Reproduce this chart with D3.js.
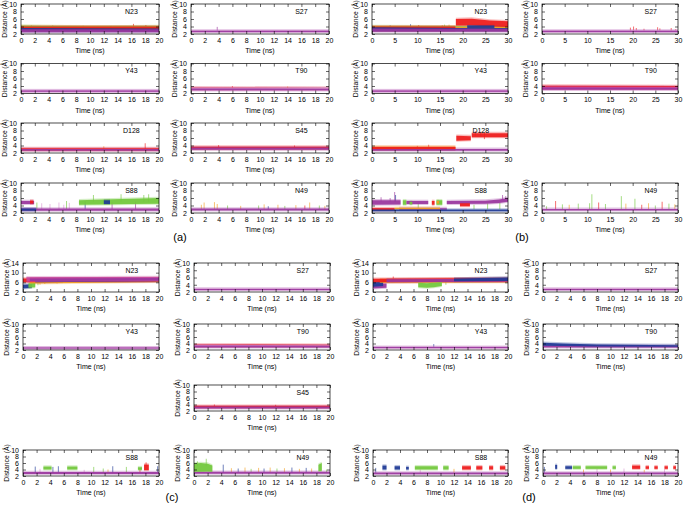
<!DOCTYPE html>
<html><head><meta charset="utf-8">
<script src="https://cdn.jsdelivr.net/npm/d3@7"></script>
<style>
body{margin:0;background:#fff}
text{font-family:"Liberation Sans",Arial,Helvetica,sans-serif}
</style>
</head><body><script>
// ---------------- DATA ----------------
// band = [series, [[time, low, high], ...]] ; spike = [series, time, from, to]
const seriesColors = {r:"#ee1c1c", g:"#72c83c", b:"#1f3a96", m:"#9a379e", o:"#f2a024", p:"#d99ad3", k:"#c8489e"};

const xTicks20 = [0,2,4,6,8,10,12,14,16,18,20];
const xTicks30 = [0,5,10,15,20,25,30];
const yTicks10 = [2,4,6,8,10];
const yTicks14 = [2,6,10,14];

// ---- panel (a), 0-20 ns ----
const aN23Bands = [["o",[[0,3.0,4.1],[20,3.0,4.0]]],["g",[[0,3.0,4.2],[10,3.0,4.0],[20,3.0,4.1]]],["r",[[0,2.9,4.0],[20,2.9,4.0]]],["b",[[0,2.7,3.6],[20,2.7,3.5]]],["m",[[0,2.5,3.3],[20,2.5,3.3]]]];
const aN23Spikes = [["r",16.3,3.5,4.7],["r",18.1,3.5,4.4],["g",4.6,3.5,4.3],["b",13,3.5,4.1],["o",1.5,3.5,4.3],["g",9,3.5,4.2]];
const aS27Bands = [["p",[[0,2.45,2.95],[20,2.45,2.95]]],["m",[[0,2.55,2.85],[20,2.55,2.85]]]];
const aS27Spikes = [["m",3.8,2.8,3.9]];
const aY43Bands = [["p",[[0,2.4,2.9],[20,2.4,2.9]]],["m",[[0,2.5,2.8],[20,2.5,2.8]]]];
const aY43Spikes = [];
const aT90Bands = [["r",[[0,3.0,3.6],[20,3.0,3.5]]],["p",[[0,2.8,3.6],[20,2.8,3.5]]],["m",[[0,2.9,3.35],[20,2.9,3.3]]]];
const aT90Spikes = [["r",6,3.3,4.0],["o",14,3.3,3.9]];
const aD128Bands = [["r",[[0,2.7,3.3],[20,2.7,3.3]]],["m",[[0,2.6,3.1],[20,2.6,3.1]]]];
const aD128Spikes = [["r",18,3.1,4.6],["o",12,3.1,3.8]];
const aS45Bands = [["r",[[0,3.0,3.7],[20,3.0,3.7]]],["m",[[0,2.9,3.5],[20,2.9,3.5]]]];
const aS45Spikes = [["r",4,3.4,4.1],["r",15,3.4,4.0]];
const aS88Bands = [["m",[[0,2.6,3.2],[20,2.6,3.2]]],["b",[[0,2.6,3.2],[2.2,2.6,3.2]]],["m",[[0,4.4,5.2],[1.9,4.4,5.2]]],["r",[[1.3,4.5,5.3],[1.8,4.5,5.3]]],["g",[[8.4,4.2,5.4],[12,4.3,5.6],[16,4.4,5.8],[20,4.5,6.0]]],["b",[[12,4.4,5.4],[12.9,4.4,5.4]]]];
const aS88Spikes = [["g",2.3,3,4.8],["g",6.6,3,5.2],["b",9.3,3,5.1],["m",13.2,3,4.9],["m",16.6,3,5.0],["g",10.5,5,6.8],["g",14.5,5,7.0],["g",17.8,5,6.8],["g",18.5,5,7.0],["p",3.0,3,4.6],["p",4.2,3,4.4],["p",5.5,3,4.8],["p",6.2,3,4.2],["p",7.0,3,4.7]];
const aN49Bands = [["m",[[0,2.7,3.2],[20,2.7,3.2]]]];
const aN49Spikes = [["o",1.5,2.9,4.2],["o",1.9,2.9,4.8],["o",3.4,2.9,4.9],["o",3.8,2.9,4.4],["g",5.3,2.9,4.0],["o",7.2,2.9,3.9],["g",9.8,2.9,4.0],["o",10.6,2.9,4.3],["b",11.2,2.9,3.8],["o",12.6,2.9,4.2],["g",13.6,2.9,3.9],["o",15.2,2.9,4.1],["r",16.5,2.9,4.0],["o",17.2,2.9,4.8],["g",18.6,2.9,4.0],["o",19.4,2.9,3.9]];

// ---- panel (b), 0-30 ns ----
const bN23Bands = [["g",[[0,3.0,4.1],[30,3.0,4.0]]],["o",[[0,3.0,4.0],[30,3.0,3.9]]],["r",[[0,2.9,4.0],[18.4,2.9,4.0]]],["r",[[18.5,4.3,6.0],[22,4.3,6.1],[26,4.0,5.6],[30,3.9,5.4]]],["b",[[0,2.8,3.8],[20,2.8,3.6],[30,2.8,3.6]]],["b",[[21,3.6,4.3],[27,3.6,4.3]]],["m",[[0,2.6,3.5],[30,2.6,3.4]]]];
const bN23Spikes = [["b",8.5,3.5,4.6],["r",10.3,3.5,4.4],["g",16,3.5,4.5],["o",17,3.5,4.5],["r",15.5,3.5,4.3],["b",4,3.5,4.3]];
const bS27Bands = [["p",[[0,2.45,2.95],[30,2.45,2.95]]],["m",[[0,2.55,2.85],[30,2.55,2.85]]]];
const bS27Spikes = [["r",19.5,2.9,3.7],["r",20.2,2.9,4.0],["r",20.8,2.9,3.6],["r",25.5,2.9,3.8],["r",26,2.9,3.5],["r",28.5,2.9,3.6],["r",22.5,2.9,3.4],["r",29.5,2.9,3.3]];
const bY43Bands = [["p",[[0,2.4,2.9],[30,2.4,2.9]]],["m",[[0,2.5,2.8],[30,2.5,2.8]]]];
const bY43Spikes = [];
const bT90Bands = [["r",[[0,3.2,4.1],[30,3.2,4.0]]],["k",[[0,3.0,3.9],[30,3.0,3.8]]],["m",[[0,3.1,3.6],[30,3.1,3.5]]]];
const bT90Spikes = [];
const bD128Bands = [["o",[[0,2.9,3.7],[18.4,2.9,3.7]]],["r",[[0,2.8,3.6],[18.4,2.8,3.6]]],["r",[[18.6,5.3,6.6],[21.8,5.4,6.5]]],["r",[[22,6.2,7.3],[30,6.2,7.3]]],["m",[[0,2.6,3.1],[30,2.6,3.1]]]];
const bD128Spikes = [["r",22.8,6.5,7.8],["r",24,6.5,7.6],["r",24.8,5.7,7.5],["r",12.5,3.2,4.2],["r",10,3.2,3.9]];
const bS88Bands = [["m",[[6,2.9,3.3],[16.5,2.9,3.3]]],["r",[[0,2.7,3.3],[5,2.7,3.3]]],["o",[[5,3.0,3.4],[15,3.0,3.4]]],["b",[[0,2.5,2.95],[30,2.5,2.95]]],["m",[[0,4.2,5.4],[6.3,4.3,5.4]]],["g",[[6.8,4.2,5.4],[7.6,4.2,5.4]]],["m",[[7.6,4.4,5.2],[12.4,4.4,5.2]]],["g",[[8.3,4.3,5.0],[8.9,4.3,5.0]]],["r",[[13.2,4.2,5.2],[13.8,4.2,5.2]]],["g",[[14.2,4.2,5.4],[15.5,4.2,5.4]]],["o",[[14.3,4.5,5.2],[14.8,4.5,5.2]]],["m",[[16.5,4.4,5.2],[25,4.5,5.3],[28,4.7,5.6],[30,5.0,6.0]]],["r",[[19.4,3.8,4.6],[21.6,3.8,4.6]]]];
const bS88Spikes = [["m",5,5,7.6],["b",5.2,5,6.8],["m",2,5,6.2],["g",25.5,3,4.6],["g",28.2,3,4.8],["m",28.8,5.5,6.8],["m",29.5,5.5,6.5],["g",22.5,3,4.2],["g",10.2,3,4.6],["m",4,5,6.0]];
const bN49Bands = [["m",[[0,2.7,3.1],[30,2.7,3.1]]]];
const bN49Spikes = [["g",1,2.9,3.8],["r",3,2.9,5.2],["g",4.5,2.9,4.3],["o",6,2.9,4.2],["g",8,2.9,4.5],["g",10.5,2.9,4.6],["g",11,2.9,7.0],["r",12.5,2.9,4.8],["g",14,2.9,4.4],["g",17.5,2.9,6.5],["o",18.5,2.9,4.5],["g",20.5,2.9,5.8],["r",22,2.9,4.2],["o",23.5,2.9,4.6],["g",25,2.9,4.0],["r",26.5,2.9,5.0],["g",28,2.9,4.5],["o",29.3,2.9,4.3]];

// ---- panel (c), 0-20 ns ----
const cN23Bands = [["b",[[0,3.5,5.0],[1.3,3.8,5.2]]],["g",[[0.8,3.8,5.5],[1.8,4.0,5.8]]],["o",[[1,5.5,7.4],[20,6.1,7.4]]],["r",[[0,6.0,7.6],[20,6.3,7.8]]],["b",[[1.8,6.0,7.4],[20,6.4,7.6]]],["k",[[0.5,6.2,8.1],[20,6.4,8.2]]],["m",[[1,6.6,7.6],[20,6.8,7.8]]]];
const cN23Spikes = [["o",2.5,6,5.0],["o",3.2,6,5.3],["g",2.2,6,4.8],["o",5,6,5.5]];
const cS27Bands = [["p",[[0,2.45,2.95],[20,2.45,2.95]]],["m",[[0,2.55,2.85],[20,2.55,2.85]]]];
const cS27Spikes = [];
const cY43Bands = [["p",[[0,2.35,2.85],[20,2.35,2.85]]],["m",[[0,2.45,2.75],[20,2.45,2.75]]]];
const cY43Spikes = [];
const cT90Bands = [["r",[[0,2.9,3.7],[20,2.9,3.6]]],["p",[[0,3.0,3.6],[20,3.0,3.5]]],["m",[[0,2.8,3.4],[20,2.8,3.3]]]];
const cT90Spikes = [];
const cS45Bands = [["r",[[0,2.9,3.6],[20,2.9,3.6]]],["m",[[0,2.8,3.4],[20,2.8,3.4]]]];
const cS45Spikes = [["r",3,3.3,4.0],["r",12,3.3,3.9]];
const cS88Bands = [["m",[[0,2.6,3.2],[20,2.6,3.2]]],["g",[[3.0,4.0,4.9],[4.2,4.0,4.9]]],["g",[[6.5,4.0,4.9],[8.0,4.0,4.9]]],["g",[[16.9,3.9,4.7],[17.5,3.9,4.7]]],["r",[[17.8,3.8,5.5],[18.5,3.8,5.5]]]];
const cS88Spikes = [["b",1.8,3,4.9],["b",4.4,3,4.8],["b",5.2,3,5.0],["b",13.2,3,5.0],["b",19.8,3,5.0],["g",10.4,3,4.8],["g",11.8,3,4.3],["g",15.2,3,4.8],["r",18.1,5,6.2],["r",17.2,3,4.3],["p",2.5,3,4.2],["p",9,3,3.9],["o",12.5,3,4.0]];
const cN49Bands = [["m",[[0,2.7,3.3],[20,2.7,3.3]]],["g",[[0,3.3,5.8],[1,3.3,6.0],[2,3.4,5.8],[2.7,3.3,5.2]]],["g",[[18.3,3.5,5.5],[18.8,3.6,6.0]]]];
const cN49Spikes = [["g",1.8,5,7.3],["g",0.5,5,6.5],["b",4.3,3,5.5],["o",5.5,3,4.4],["b",6.5,3,4.3],["o",7.5,3,4.6],["g",8.4,3,4.2],["o",9.5,3,4.5],["b",10.3,3,4.3],["o",11.2,3,4.6],["g",12.2,3,4.3],["o",13.3,3,4.4],["b",14.4,3,4.6],["o",15.5,3,4.2],["b",16.5,3,4.5],["o",17.3,3,4.3],["g",19.5,3,4.0]];

// ---- panel (d), 0-20 ns ----
const dN23Bands = [["m",[[0,3.5,5.2],[2,3.8,5.5]]],["b",[[0,4.2,6.0],[1.5,4.5,6.2]]],["o",[[1,5.8,7.3],[20,6.0,7.5]]],["r",[[0,6.0,7.5],[20,6.2,7.8]]],["m",[[2,6.0,7.3],[20,6.2,7.5]]],["g",[[6.7,4.0,5.8],[8,3.8,5.6],[9,4.0,5.8],[10.2,4.5,6.0]]],["b",[[12,6.5,7.6],[20,6.6,8.0]]]];
const dN23Spikes = [["g",10.8,5,6.2],["r",3,7.5,8.4]];
const dS27Bands = [["p",[[0,2.45,2.95],[20,2.45,2.95]]],["m",[[0,2.55,2.85],[20,2.55,2.85]]]];
const dS27Spikes = [];
const dY43Bands = [["p",[[0,2.5,3.0],[20,2.5,3.0]]],["m",[[0,2.6,2.9],[20,2.6,2.9]]]];
const dY43Spikes = [["b",9,2.9,3.8]];
const dT90Bands = [["m",[[0,2.8,3.4],[20,2.8,3.3]]],["b",[[0,3.3,4.2],[3,3.2,4.0],[8,3.1,3.7],[20,3.0,3.5]]]];
const dT90Spikes = [];
const dS88Bands = [["m",[[0,2.55,3.05],[20,2.55,3.05]]],["b",[[1.4,4.0,5.2],[2.0,4.0,5.2]]],["b",[[3.2,4.0,5.0],[4.0,4.0,5.0]]],["b",[[4.9,4.0,4.8],[5.3,4.0,4.8]]],["g",[[6.2,4.0,5.0],[9.6,4.0,5.0]]],["g",[[10.4,4.0,5.0],[11.2,4.0,5.0]]],["r",[[13.2,4.0,5.0],[14.5,4.0,5.0]]],["r",[[15.3,4.0,5.0],[16.2,4.0,5.0]]],["r",[[17.2,4.0,5.0],[17.8,4.0,5.0]]],["r",[[18.8,4.0,5.0],[19.6,4.0,5.0]]]];
const dS88Spikes = [["o",12,3,4.2],["p",7,3,4.0],["b",0.4,3,4.5]];
const dN49Bands = [["m",[[0,2.55,3.05],[20,2.55,3.05]]],["b",[[1.8,4.2,5.4],[2.1,4.2,5.4]]],["b",[[3.3,4.2,5.0],[4.3,4.2,5.0]]],["g",[[4.4,4.2,5.0],[5.6,4.2,5.0]]],["g",[[6.3,4.2,5.0],[9.5,4.2,5.0]]],["g",[[10.3,4.2,5.0],[10.8,4.2,5.0]]],["r",[[13.2,4.2,5.2],[14.4,4.2,5.2]]],["r",[[15.2,4.2,5.0],[15.7,4.2,5.0]]],["r",[[16.5,4.2,5.0],[17.0,4.2,5.0]]],["r",[[18.0,4.2,5.0],[18.5,4.2,5.0]]],["r",[[19.3,4.2,5.0],[19.7,4.2,5.0]]]];
const dN49Spikes = [["b",0.2,3,4.8],["o",6,3,4.0],["p",8,3,4.2],["o",10,3,4.0],["p",12,3,4.3],["o",15,3,3.9],["p",18,3,4.1]];

// ---------------- LAYOUT ----------------
const svg = d3.select("body").append("svg").attr("width",685).attr("height",509);
let clipN = 0;

function drawPlot(px, py, w, h, xMax, xTicks, yMax, yTicks, title, bands, spikes){
  const g = svg.append("g").attr("transform",`translate(${px},${py})`);
  const x = d3.scaleLinear().domain([0,xMax]).range([0,w]);
  const y = d3.scaleLinear().domain([2,yMax]).range([h,0]);
  const id = "cp"+(clipN++);
  g.append("clipPath").attr("id",id).append("rect").attr("width",w).attr("height",h);
  const body = g.append("g").attr("clip-path",`url(#${id})`);
  body.selectAll("line.sp").data(spikes).join("line").attr("class","sp")
    .attr("x1",d=>x(d[1])).attr("x2",d=>x(d[1]))
    .attr("y1",d=>y(d[2])).attr("y2",d=>y(d[3]))
    .attr("stroke",d=>seriesColors[d[0]]).attr("stroke-width",0.8).attr("stroke-opacity",0.8);
  const halo = d3.area().x(d=>x(d[0])).y0(d=>y(d[1])+1).y1(d=>y(d[2])-1.3);
  body.selectAll("path.hl").data(bands).join("path").attr("class","hl")
    .attr("d",d=>halo(d[1])).attr("fill",d=>seriesColors[d[0]]).attr("fill-opacity",0.3);
  const area = d3.area().x(d=>x(d[0])).y0(d=>y(d[1])).y1(d=>y(d[2]));
  body.selectAll("path.bd").data(bands).join("path").attr("class","bd")
    .attr("d",d=>area(d[1])).attr("fill",d=>seriesColors[d[0]]).attr("fill-opacity",0.92);
  const fs = h < 25 ? 6.5 : 7;
  const style = sel => { sel.select(".domain").remove(); sel.selectAll("line").attr("stroke","#000").attr("stroke-width",0.6);
    sel.selectAll("text").attr("font-size",fs).attr("fill","#000").attr("font-family","Liberation Sans, Arial, sans-serif"); };
  g.append("g").attr("transform",`translate(0,${h})`).call(d3.axisBottom(x).tickValues(xTicks).tickSizeInner(-3).tickSizeOuter(0).tickPadding(4)).call(style);
  g.append("g").call(d3.axisTop(x).tickValues(xTicks).tickSizeInner(-3).tickSizeOuter(0).tickFormat("")).call(style);
  g.append("g").call(d3.axisLeft(y).tickValues(yTicks).tickSizeInner(-3).tickSizeOuter(0).tickPadding(4)).call(style);
  g.append("g").attr("transform",`translate(${w},0)`).call(d3.axisRight(y).tickValues(yTicks).tickSizeInner(-3).tickSizeOuter(0).tickFormat("")).call(style);
  g.append("rect").attr("width",w).attr("height",h).attr("fill","none").attr("stroke","#000").attr("stroke-width",0.7);
  g.append("text").attr("x",w*0.8).attr("y",Math.min(9.5,h*0.42)).attr("font-size",7).attr("text-anchor","middle").text(title);
  g.append("text").attr("x",w/2).attr("y",h+19).attr("font-size",7).attr("text-anchor","middle").text("Time (ns)");
  g.append("text").attr("transform",`translate(-14,${h/2}) rotate(-90)`).attr("font-size",6.8).attr("text-anchor","middle").text("Distance (Å)");
}

// panel (a)
const aCols=[21,191], aRows=[4,63.5,123,183];
[[0,0,"N23",aN23Bands,aN23Spikes],[0,1,"S27",aS27Bands,aS27Spikes],[1,0,"Y43",aY43Bands,aY43Spikes],[1,1,"T90",aT90Bands,aT90Spikes],
 [2,0,"D128",aD128Bands,aD128Spikes],[2,1,"S45",aS45Bands,aS45Spikes],[3,0,"S88",aS88Bands,aS88Spikes],[3,1,"N49",aN49Bands,aN49Spikes]]
 .forEach(p=>drawPlot(aCols[p[1]],aRows[p[0]],138,30,20,xTicks20,10,yTicks10,p[2],p[3],p[4]));
// panel (b)
const bCols=[372,542];
[[0,0,"N23",bN23Bands,bN23Spikes],[0,1,"S27",bS27Bands,bS27Spikes],[1,0,"Y43",bY43Bands,bY43Spikes],[1,1,"T90",bT90Bands,bT90Spikes],
 [2,0,"D128",bD128Bands,bD128Spikes],[3,0,"S88",bS88Bands,bS88Spikes],[3,1,"N49",bN49Bands,bN49Spikes]]
 .forEach(p=>drawPlot(bCols[p[1]],aRows[p[0]],136,30,30,xTicks30,10,yTicks10,p[2],p[3],p[4]));
// panel (c)
const cCols=[23,194], cRows=[263,324,385,450], cH=[29,26,26,26];
[[0,0,"N23",cN23Bands,cN23Spikes,14],[0,1,"S27",cS27Bands,cS27Spikes,10],[1,0,"Y43",cY43Bands,cY43Spikes,10],[1,1,"T90",cT90Bands,cT90Spikes,10],
 [2,1,"S45",cS45Bands,cS45Spikes,10],[3,0,"S88",cS88Bands,cS88Spikes,10],[3,1,"N49",cN49Bands,cN49Spikes,10]]
 .forEach(p=>drawPlot(cCols[p[1]],cRows[p[0]],136,cH[p[0]],20,xTicks20,p[5],p[5]===14?yTicks14:yTicks10,p[2],p[3],p[4]));
// panel (d)
const dCols=[373,543];
[[0,0,"N23",dN23Bands,dN23Spikes,14],[0,1,"S27",dS27Bands,dS27Spikes,10],[1,0,"Y43",dY43Bands,dY43Spikes,10],[1,1,"T90",dT90Bands,dT90Spikes,10],
 [3,0,"S88",dS88Bands,dS88Spikes,10],[3,1,"N49",dN49Bands,dN49Spikes,10]]
 .forEach(p=>drawPlot(dCols[p[1]],cRows[p[0]],135,cH[p[0]],20,xTicks20,p[5],p[5]===14?yTicks14:yTicks10,p[2],p[3],p[4]));

// panel letters
[["(a)",180,241],["(b)",522,241],["(c)",172,501],["(d)",529,501]].forEach(l=>
  svg.append("text").attr("x",l[1]).attr("y",l[2]).attr("text-anchor","middle").attr("font-size",11)
   .attr("font-family","DejaVu Serif, Liberation Serif, serif").text(l[0]));
</script></body></html>
